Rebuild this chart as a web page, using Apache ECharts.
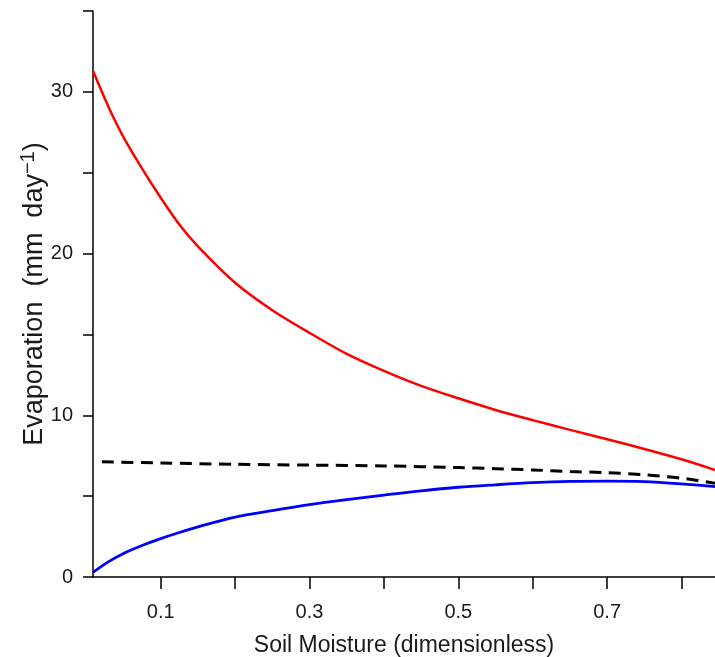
<!DOCTYPE html>
<html>
<head>
<meta charset="utf-8">
<script src="https://cdn.jsdelivr.net/npm/echarts@6/dist/echarts.min.js"></script>
<style>
html,body{margin:0;padding:0;background:#fff;}
#chart{width:715px;height:657px;}
</style>
</head>
<body>
<div id="chart"></div>
<script>
// Soil moisture (x) and evaporation (y) values
const redX = [0.009, 0.03, 0.05, 0.075, 0.1, 0.125, 0.15, 0.2, 0.25, 0.3, 0.35, 0.4, 0.45, 0.5, 0.55, 0.6, 0.65, 0.7, 0.75, 0.8, 0.845];
const redY = [31.3, 29.05, 27.2, 25.25, 23.45, 21.8, 20.45, 18.2, 16.5, 15.1, 13.8, 12.75, 11.82, 11.05, 10.33, 9.7, 9.1, 8.52, 7.92, 7.28, 6.62];
const blueX = [0.009, 0.03, 0.05, 0.075, 0.1, 0.125, 0.15, 0.2, 0.25, 0.3, 0.35, 0.4, 0.45, 0.5, 0.55, 0.6, 0.65, 0.7, 0.75, 0.8, 0.845];
const blueY = [0.29, 0.95, 1.46, 1.95, 2.37, 2.75, 3.1, 3.7, 4.1, 4.47, 4.78, 5.06, 5.33, 5.55, 5.7, 5.83, 5.91, 5.93, 5.9, 5.76, 5.59];
const dashX = [0.021, 0.1, 0.2, 0.3, 0.4, 0.5, 0.55, 0.6, 0.65, 0.7, 0.75, 0.8, 0.845];
const dashY = [7.13, 7.05, 6.97, 6.92, 6.87, 6.77, 6.7, 6.62, 6.52, 6.45, 6.32, 6.11, 5.8];
const xTicks = [0.1, 0.2, 0.3, 0.4, 0.5, 0.6, 0.7, 0.8];
const xTickLabels = [0.1, 0.3, 0.5, 0.7];
const yTickLabels = [0, 10, 20, 30];
const xTitle = 'Soil Moisture (dimensionless)';

const pairs = (xs, ys) => xs.map((x, i) => [x, ys[i]]);
const FONT = 'Liberation Sans';
const TXT = '#1a1a1a';

const chart = echarts.init(document.getElementById('chart'), null, {renderer: 'canvas'});
chart.setOption({
  animation: false,
  backgroundColor: '#ffffff',
  grid: {left: 93, right: 0, top: 11, bottom: 80, containLabel: false, outerBoundsMode: 'none'},
  xAxis: {
    type: 'value',
    min: 0.009, max: 0.845,
    name: xTitle,
    nameLocation: 'middle',
    nameGap: 57,
    nameMoveOverlap: false,
    nameTextStyle: {fontFamily: FONT, fontSize: 23, color: TXT},
    axisLine: {show: true, lineStyle: {color: '#000', width: 1.5}},
    axisTick: {show: true, inside: false, length: 12, customValues: xTicks, lineStyle: {color: '#000', width: 1.5}},
    axisLabel: {customValues: xTickLabels, margin: 25, fontFamily: FONT, fontSize: 20, color: TXT,
      formatter: v => v.toFixed(1)},
    splitLine: {show: false}
  },
  yAxis: {
    type: 'value',
    min: 0, max: 35, interval: 5,
    name: '{a|Evaporation  (mm  day}{b|−1}{a|)}',
    nameLocation: 'middle',
    nameGap: 42,
    nameMoveOverlap: false,
    nameRotate: 90,
    nameTextStyle: {
      fontFamily: FONT, fontSize: 27, color: TXT,
      rich: {
        a: {fontFamily: FONT, fontSize: 27, color: TXT, lineHeight: 32},
        b: {fontFamily: FONT, fontSize: 20, color: TXT, lineHeight: 32, padding: [0, 0, 14, 0]}
      }
    },
    axisLine: {show: true, lineStyle: {color: '#000', width: 1.5}},
    axisTick: {show: true, inside: false, length: 10, lineStyle: {color: '#000', width: 1.5}},
    axisLabel: {customValues: yTickLabels, margin: 20, fontFamily: FONT, fontSize: 20, color: TXT},
    splitLine: {show: false}
  },
  series: [
    {type: 'line', data: pairs(redX, redY), smooth: 0.3, showSymbol: false, clip: true,
      lineStyle: {color: '#ff0000', width: 2.5}},
    {type: 'line', data: pairs(blueX, blueY), smooth: 0.3, showSymbol: false, clip: true,
      lineStyle: {color: '#0000ff', width: 2.8}},
    {type: 'line', data: pairs(dashX, dashY), smooth: 0.3, showSymbol: false, clip: true,
      lineStyle: {color: '#000000', width: 3, type: [12, 7.5]}}
  ]
});
</script>
</body>
</html>
